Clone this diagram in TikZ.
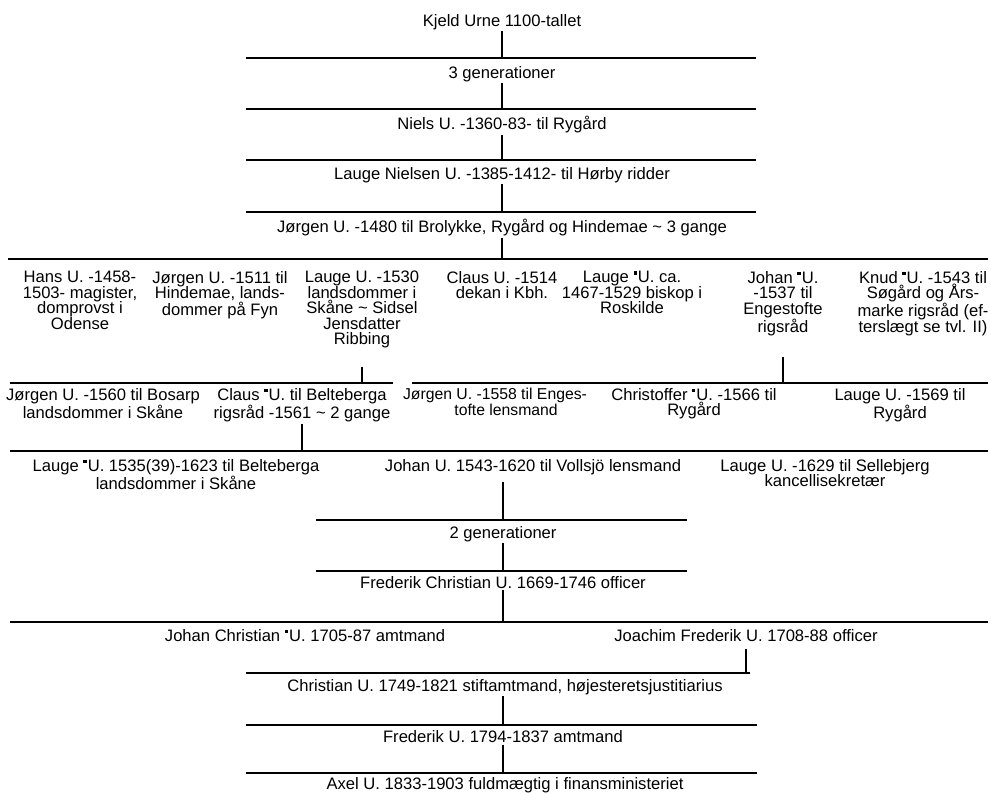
\documentclass[tikz,border=0pt]{standalone}
\usepackage{fontspec}
\setmainfont{Liberation Sans}
\newcommand{\prik}{\raisebox{.5em}{\rule{.2em}{.2em}}\hspace{.06em}}
\tikzset{
	person/.style={align=center,inner sep=1pt,anchor=north,font=\fontsize{11.8}{11}\selectfont},
	tvaer/.style={line width=1.1pt},
	lod/.style={line width=0.8pt}
}
\begin{document}
\begin{tikzpicture}[x=0.025cm,y=-0.025cm]
	\useasboundingbox (0,0) rectangle (991,794);
	\foreach \n/\y/\xa/\xb in {1/58/246/756,2/109/246/756,3/160/246/756,4/212/246/756,5/259/8/988,
		6/383/10/393,7/383/412/988,8/451/10/988,9/520/316/687,10/571/316/687,11/622/10/988,
		12/673/246/750,13/725/246/757,14/773/246/757}
		\draw[tvaer] (\xa,\y) coordinate (v\n) -- (\xb,\y) coordinate (h\n);

	\node[person] (kjeld) at (502,12.5) {Kjeld Urne 1100-tallet};
	\node[person] (gen3) at (502,64.5) {3 generationer};
	\node[person] (niels) at (502,114.5) {Niels U. -1360-83- til Rygård};
	\node[person] (laugeN) at (502,165.5) {Lauge Nielsen U. -1385-1412- til Hørby ridder};
	\node[person] (jorgenA) at (502,217.5) {Jørgen U. -1480 til Brolykke, Rygård og Hindemae \textasciitilde{} 3 gange};
	\draw[lod] (kjeld.south) -- (kjeld.south |- v1);
	\draw[lod] (gen3.south) -- (gen3.south |- v2);
	\draw[lod] (niels.south) -- (niels.south |- v3);
	\draw[lod] (laugeN.south) -- (laugeN.south |- v4);
	\draw[lod] (jorgenA.south) -- (jorgenA.south |- v5);

	\node[person] (hans) at (80,269.5) {Hans U. -1458-\\1503- magister,\\domprovst i\\Odense};
	\node[person] (jorgenB) at (220,269.5) {Jørgen U. -1511 til\\Hindemae, lands-\\dommer på Fyn};
	\node[person] (laugeB) at (362,269.5) {Lauge U. -1530\\landsdommer i\\Skåne \textasciitilde{} Sidsel\\Jensdatter\\Ribbing};
	\node[person] (claus) at (502,269.5) {Claus U. -1514\\dekan i Kbh.};
	\node[person] (laugeC) at (632,269.5) {Lauge \prik U. ca.\\1467-1529 biskop i\\Roskilde};
	\node[person] (johan) at (783,269.5) {Johan \prik U.\\-1537 til\\Engestofte\\rigsråd};
	\node[person] (knud) at (923,269.5) {Knud \prik U. -1543 til\\Søgård og Års-\\marke rigsråd (ef-\\terslægt se tvl. II)};
	\draw[lod,shorten <=12pt] (laugeB.south) -- (laugeB.south |- v6);
	\draw[lod,shorten <=14pt] (johan.south) -- (johan.south |- v7);

	\node[person] (jorgenC) at (103,386.5) {Jørgen U. -1560 til Bosarp\\landsdommer i Skåne};
	\node[person] (clausB) at (302,386.5) {Claus \prik U. til Belteberga\\rigsråd -1561 \textasciitilde{} 2 gange};
	\node[person,font=\fontsize{11.2}{11}\selectfont] (jorgenD) at (495,386.5) {Jørgen U. -1558 til Enges-\\\hspace*{1.4em}tofte lensmand};
	\node[person] (christoffer) at (694,386.5) {Christoffer \prik U. -1566 til\\Rygård};
	\node[person] (laugeD) at (900,386.5) {Lauge U. -1569 til\\Rygård};
	\draw[lod] (clausB.south) -- (clausB.south |- v8);

	\node[person] (laugeE) at (176,457.5) {Lauge \prik U. 1535(39)-1623 til Belteberga\\landsdommer i Skåne};
	\node[person] (johanB) at (533,457.5) {Johan U. 1543-1620 til Vollsjö lensmand};
	\node[person] (laugeF) at (825,457.5) {Lauge U. -1629 til Sellebjerg\\kancellisekretær};

	\node[person] (gen2) at (503,524.5) {2 generationer};
	\node[person] (frederikC) at (503,574.5) {Frederik Christian U. 1669-1746 officer};
	\draw[lod,shorten <=4pt] (johanB.south -| gen2) -- (gen2 |- v9);
	\draw[lod] (gen2.south) -- (gen2.south |- v10);
	\draw[lod] (frederikC.south) -- (frederikC.south |- v11);

	\node[person] (johanC) at (305,627.5) {Johan Christian \prik U. 1705-87 amtmand};
	\node[person] (joachim) at (746,627.5) {Joachim Frederik U. 1708-88 officer};
	\draw[lod,shorten <=4pt] (joachim.south) -- (joachim.south |- v12);

	\node[person] (christianB) at (505,677.5) {Christian U. 1749-1821 stiftamtmand, højesteretsjustitiarius};
	\node[person] (frederikB) at (503,729) {Frederik U. 1794-1837 amtmand};
	\node[person] (axel) at (505,775.5) {Axel U. 1833-1903 fuldmægtig i finansministeriet};
	\draw[lod] (christianB.south -| frederikB) -- (frederikB |- v13);
	\draw[lod] (frederikB.south) -- (frederikB.south |- v14);
\end{tikzpicture}
\end{document}
